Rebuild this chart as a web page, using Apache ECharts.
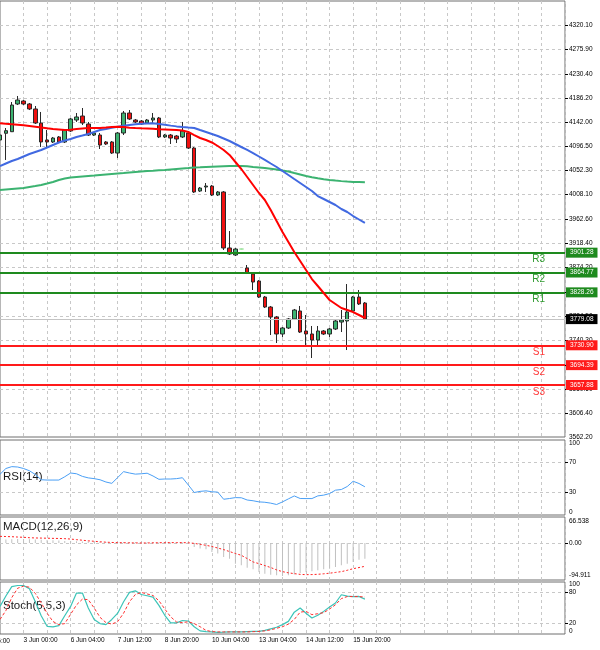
<!DOCTYPE html>
<html><head><meta charset="utf-8">
<script src="https://cdn.jsdelivr.net/npm/echarts@6/dist/echarts.min.js"></script>
<style>html,body{margin:0;padding:0;background:#fff}#c{width:600px;height:650px}</style>
</head><body><div id="c"></div>
<script>
// ---- data (H4 bars) ----
const opens = [4108.6,4120.9,4123.8,4174.8,4180.3,4174.8,4165.6,4139.8,4108.6,4104.9,
4114.1,4104.9,4125.1,4145.3,4152.7,4138.0,4117.7,4117.7,4104.9,4104.9,
4084.6,4121.4,4158.2,4145.3,4143.5,4139.8,4145.3,4149.0,4114.1,4117.7,
4115.9,4114.1,4121.4,4093.8,4014.7,4022.1,4023.9,4007.4,4012.9,3909.9,
3897.0,3908.0,3873.1,3862.0,3849.2,3819.7,3801.3,3782.9,3751.7,3762.7,
3779.3,3794.0,3757.2,3751.7,3740.6,3757.2,3751.7,3760.9,3773.7,3775.6,
3794.0,3819.7,3808.7];
const closes = [4117.7,4125.7,4172.9,4182.1,4174.8,4165.6,4139.8,4104.9,4104.9,4112.2,
4104.9,4126.9,4147.2,4150.9,4139.8,4117.7,4121.4,4099.3,4101.2,4084.6,
4121.4,4158.2,4147.2,4141.7,4138.0,4145.3,4149.0,4114.1,4117.7,4112.2,
4110.4,4125.1,4093.8,4012.9,4020.2,4023.9,4007.4,4012.9,3909.9,3898.8,
3908.0,3908.0,3863.9,3847.3,3819.7,3801.3,3782.9,3751.7,3762.7,3779.3,
3795.8,3755.3,3751.7,3740.6,3757.2,3751.7,3760.9,3775.6,3777.4,3792.1,
3819.7,3806.9,3779.1];
const lows = [4104.9,4071.8,4123.3,4172.9,4172.9,4163.7,4138.0,4095.7,4095.7,4103.0,
4103.0,4103.0,4123.3,4141.7,4136.1,4115.9,4115.9,4092.0,4099.3,4082.8,
4075.4,4117.7,4145.3,4139.8,4136.1,4138.0,4139.8,4112.2,4112.2,4101.2,
4103.0,4112.2,4092.0,4011.0,4012.9,4012.9,4005.5,4005.5,3906.2,3897.0,
3895.2,3907.1,3862.0,3832.6,3817.9,3799.5,3749.8,3735.1,3746.1,3760.9,
3777.4,3753.5,3731.4,3707.5,3731.4,3749.8,3746.1,3759.0,3755.3,3722.2,
3792.1,3805.0,3777.4];
const highs = [4123.3,4130.6,4178.4,4189.5,4182.1,4176.6,4171.1,4160.1,4126.9,4114.1,
4115.9,4128.8,4149.0,4158.2,4167.4,4141.7,4123.3,4121.4,4106.7,4106.7,
4123.3,4161.9,4163.7,4147.2,4145.3,4147.2,4158.2,4150.9,4119.6,4119.6,
4117.7,4141.7,4123.3,4095.7,4022.1,4029.4,4025.8,4014.7,4014.7,3941.1,
3909.9,3908.9,3878.6,3863.9,3851.0,3821.6,3803.2,3784.8,3764.5,3781.1,
3797.7,3803.2,3786.6,3766.4,3766.4,3759.0,3762.7,3777.4,3795.8,3843.6,
3821.6,3832.6,3810.5];
const maRed = [4139.3,4138.4,4137.6,4136.7,4135.6,4134.3,4133.0,4131.5,4130.1,4128.8,
4127.9,4126.9,4127.5,4128.8,4129.7,4130.6,4130.6,4130.6,4131.5,4132.5,
4133.0,4132.5,4131.2,4130.6,4130.1,4129.7,4129.2,4128.2,4127.9,4127.5,
4126.9,4126.0,4123.3,4117.7,4112.2,4108.6,4104.0,4097.5,4090.2,4081.0,
4068.1,4055.2,4040.5,4025.8,4011.1,3998.2,3979.8,3959.5,3939.3,3920.9,
3902.5,3886.0,3869.4,3852.8,3840.0,3827.1,3814.2,3806.9,3799.5,3795.8,
3792.1,3786.6,3781.1];
const maBlue = [4060.7,4065.3,4069.9,4073.6,4078.2,4082.8,4086.5,4090.2,4094.8,4099.4,
4104.0,4107.6,4110.4,4114.1,4116.8,4119.6,4123.3,4126.9,4128.8,4131.0,
4133.0,4134.7,4136.1,4137.4,4138.4,4139.1,4139.3,4138.0,4136.5,4135.0,
4133.6,4132.5,4131.5,4130.6,4126.9,4123.3,4119.6,4115.9,4111.3,4106.7,
4101.2,4095.7,4090.2,4084.6,4078.2,4071.8,4065.3,4058.9,4051.5,4044.2,
4036.8,4029.5,4022.1,4014.7,4005.5,4000.0,3994.5,3989.0,3981.6,3976.1,
3968.7,3962.3,3955.9];
const maGreen = [4016.6,4017.5,4018.4,4019.3,4020.2,4022.1,4023.9,4025.8,4028.5,4031.3,
4035.0,4037.7,4039.6,4040.5,4041.4,4042.3,4043.2,4044.2,4045.1,4046.0,
4046.9,4047.8,4048.8,4049.7,4050.6,4051.5,4052.1,4052.8,4053.4,4054.3,
4055.2,4056.1,4057.0,4058.0,4058.3,4058.9,4059.4,4059.8,4060.2,4060.5,
4060.7,4060.7,4060.2,4058.9,4058.0,4057.0,4055.8,4054.3,4052.4,4050.6,
4047.8,4045.1,4042.3,4039.9,4038.1,4036.4,4035.0,4033.9,4032.9,4032.0,
4031.5,4031.1,4030.7];
const rsi = [54.3,62,64.5,64,62,59,54,47,46.6,46.6,
46.6,51,56,55,51.5,49.5,48.5,47,44,42.2,
50,57.8,56,54.5,55,55.7,52,47.6,48,48,
48.5,49.7,40,30,31.5,32.2,31,30.5,21,22,
23.2,23,20,19,17.5,17,15.8,14,17.5,21.5,
25.4,22,21.9,21.9,25.5,26.5,28.6,33.1,34,38,
45,42,37.6];
const macdHist = [8.5,9,9.5,10,10,9.5,9,8.5,7.5,7,
6.5,5,5,4.5,4,3.5,3,2.5,2,1.5,
2,2.5,2.5,2.5,2,2,2,1.5,1,1,
1,1,-1.5,-10.3,-14.5,-16.2,-23,-27.3,-35.9,-40.2,
-53,-57.2,-63.2,-67.5,-74.3,-78.6,-81.2,-82.8,-84.6,-82.8,
-81,-76.9,-74.3,-72.6,-70,-67.5,-65.8,-61.5,-57.2,-53,
-48.7,-42.7,-40.2];
const macdSignal = [17,16.5,16,15.2,14.5,13.5,12.8,12.5,12.2,11.8,
11.5,11.1,10,8.5,7,5.5,4.3,3,2,1.3,
0.9,0.6,0.3,0.1,0,0,0.3,0.6,0.9,0.9,
0.9,0.9,0.5,-1,-3.5,-6,-9,-13,-17,-22,
-27,-31.6,-40,-48.7,-53,-58,-63,-69,-73.5,-76.5,
-78.6,-80.5,-81.2,-81,-80.3,-79,-77.5,-75.5,-73.5,-70,
-66,-63,-59.8];
const stochMain = [53,73,91,93.3,93.3,87,62,35,14.8,13.6,
16,35,53,78.7,78.7,50,28,20,18,28,
40,62,80,83,76,73.5,71,55,36,21.3,
21.3,26,25,14,6,4.5,4,3.3,3.5,4,
4,4,4.5,5,5.2,7,10,13,18,24.3,
42,50,40,30.8,36,43.5,52,59.6,75.5,73,
72,72.2,67];
const stochSignal = [28,45,70,88,92,90,78,60,40,24,
18,20,38,56,67,66,50,32,22,19,
24,40,62,76,80,77,74,64,48,33,
23,22,23.5,20,14,7,4.6,4,4,4,
4,4,4,4.5,5,6,8,11,14,19,
28,42,43.5,37.2,39,41,48,56.3,68,72,
72,72,71];
const levelNames = ['R3','R2','R1','S1','S2','S3'];
const levelValues = [3901.28,3864.77,3828.26,3730.90,3694.39,3657.88];
const lastPrice = 3779.08;
const priceTicks = [4320.10,4275.90,4230.40,4186.20,4142.00,4096.50,4052.30,4008.10,3962.60,3918.40,
3874.20,3828.70,3784.50,3740.30,3694.80,3650.60,3606.40,3562.20];
const timeTickIndex = [4,12,20,28,36,44,52,60];
const timeTickText = ['3 Jun 00:00','6 Jun 04:00','7 Jun 12:00','8 Jun 20:00','10 Jun 04:00','13 Jun 04:00','14 Jun 12:00','15 Jun 20:00'];
const totalSlots = 97;

// ---- chart ----
const FONT = 'Liberation Sans';
const cats = Array.from({length: totalSlots}, (_, i) => String(i));
const GRID_LINE = {color: '#c8c8c8', type: [3, 3], width: 1};
const grids = [
  {left: -1, top: 1, width: 566, height: 436},
  {left: -1, top: 440, width: 566, height: 75},
  {left: -1, top: 517, width: 566, height: 63},
  {left: -1, top: 582, width: 566, height: 52}
].map(g => Object.assign(g, {show: true, borderColor: '#6e6e6e', borderWidth: 1, containLabel: false}));

function xAx(gi, labels) {
  return {
    type: 'category', gridIndex: gi, data: cats, boundaryGap: false,
    axisLine: {show: false}, axisTick: {show: false},
    axisLabel: labels ? {
      show: true, interval: (i) => timeTickIndex.includes(i),
      formatter: (v, i) => { const k = timeTickIndex.indexOf(i); return k >= 0 ? timeTickText[k] : ''; },
      align: 'left', fontSize: 6.5, color: '#000', margin: 3, fontFamily: FONT
    } : {show: false},
    splitLine: {show: true, interval: (i) => i % 4 === 0 && i > 0, lineStyle: GRID_LINE}
  };
}
const edgeRich = {dn: {padding: [9, 0, 0, 0]}, up: {padding: [0, 0, 9, 0]},
  dn2: {padding: [5, 0, 0, 0]}, up2: {padding: [0, 0, 5, 0]},
  dn3: {padding: [7, 0, 0, 0]}};
function yAx(gi, min, max, ticks, labels, fmt) {
  return {
    type: 'value', gridIndex: gi, position: 'right', min: min, max: max,
    axisLine: {show: false},
    axisTick: {show: true, customValues: ticks, length: 3, lineStyle: {color: '#000'}},
    axisLabel: {show: true, customValues: labels, formatter: fmt, fontSize: 6.5, color: '#000', margin: 4,
      fontFamily: FONT, rich: edgeRich, showMinLabel: true, showMaxLabel: true, hideOverlap: false},
    splitLine: {show: true, lineStyle: GRID_LINE}
  };
}

const candleData = opens.map((o, i) => {
  const item = {value: [o, closes[i], lows[i], highs[i]]};
  if (o === closes[i]) item.itemStyle = {color: '#9be39b', borderColor: '#9be39b', color0: '#9be39b', borderColor0: '#9be39b'};
  return item;
});

const lvlLines = [];
const lvlNameLines = [];
levelNames.forEach((n, k) => {
  const isR = n[0] === 'R';
  const col = isR ? '#1e8a1e' : '#ff1a1a';
  lvlLines.push({yAxis: levelValues[k], lineStyle: {color: col, width: 2, type: 'solid'},
    label: {show: true, position: 'end', distance: 1, formatter: levelValues[k].toFixed(2),
      backgroundColor: col, color: '#fff', fontSize: 6.5, fontFamily: FONT, padding: [1, 4, 1, 4], lineHeight: 8}});
  lvlNameLines.push({yAxis: levelValues[k], name: n,
    label: {show: true, position: 'insideEndBottom', distance: [20, 2], formatter: n,
      color: isR ? '#2f9a2f' : '#ff3a3a', fontSize: 10, fontFamily: FONT}});
});
lvlLines.push({yAxis: lastPrice, lineStyle: {color: '#c4c4c4', width: 1, type: 'solid'},
  label: {show: true, position: 'end', distance: 1, formatter: lastPrice.toFixed(2),
    backgroundColor: '#000', color: '#fff', fontSize: 6.5, fontFamily: FONT, padding: [1, 4, 1, 4], lineHeight: 8}});

const chart = echarts.init(document.getElementById('c'), null, {renderer: 'canvas'});
chart.setOption({
  animation: false,
  backgroundColor: '#fff',
  grid: grids,
  xAxis: [xAx(0, false), xAx(1, false), xAx(2, false), xAx(3, true)],
  yAxis: [
    yAx(0, 3562.2, 4364.25, priceTicks.slice(0, -1), priceTicks, v => v.toFixed(2)),
    yAx(1, 0, 100, [30, 70], [0, 30, 70, 100], v => v === 100 ? '{dn3|100}' : v === 0 ? '{up2|0}' : String(v)),
    yAx(2, -94.911, 66.538, [0], [66.538, 0, -94.911], v => v === 0 ? '0.00' : v > 0 ? '{dn|' + v.toFixed(3) + '}' : '{up|' + v.toFixed(3) + '}'),
    yAx(3, 0, 100, [20, 80], [0, 20, 80, 100], v => v === 100 ? '{dn2|100}' : v === 0 ? '{up2|0}' : String(v))
  ],
  series: [
    {type: 'candlestick', xAxisIndex: 0, yAxisIndex: 0, data: candleData, barWidth: 4, z: 3,
      itemStyle: {color: '#3cb371', color0: '#f01010', borderColor: '#2a2a2a', borderColor0: '#2a2a2a', borderWidth: 1},
      markLine: {silent: true, symbol: ['none', 'none'], animation: false, data: lvlLines}},
    {type: 'line', xAxisIndex: 0, yAxisIndex: 0, data: [], symbol: 'none', z: 2,
      markLine: {silent: true, symbol: ['none', 'none'], animation: false,
        lineStyle: {color: 'rgba(0,0,0,0)', width: 1}, data: lvlNameLines}},
    {type: 'line', xAxisIndex: 0, yAxisIndex: 0, data: maGreen, symbol: 'none', z: 4, lineStyle: {color: '#3cb371', width: 2}},
    {type: 'line', xAxisIndex: 0, yAxisIndex: 0, data: maBlue, symbol: 'none', z: 4, lineStyle: {color: '#4169e1', width: 2}},
    {type: 'line', xAxisIndex: 0, yAxisIndex: 0, data: maRed, symbol: 'none', z: 5, lineStyle: {color: '#ff0000', width: 2}},
    {type: 'line', xAxisIndex: 1, yAxisIndex: 1, data: rsi, symbol: 'none', lineStyle: {color: '#4a9ff5', width: 1}},
    {type: 'bar', xAxisIndex: 2, yAxisIndex: 2, data: macdHist, barWidth: 1, itemStyle: {color: '#c0c0c0'}},
    {type: 'line', xAxisIndex: 2, yAxisIndex: 2, data: macdSignal, symbol: 'none', lineStyle: {color: '#ff2020', width: 1, type: [2, 2]}},
    {type: 'line', xAxisIndex: 3, yAxisIndex: 3, data: stochMain, symbol: 'none', lineStyle: {color: '#3cc4b8', width: 1.2}},
    {type: 'line', xAxisIndex: 3, yAxisIndex: 3, data: stochSignal, symbol: 'none', lineStyle: {color: '#ff3030', width: 1, type: [3, 2]}}
  ],
  graphic: [
    {type: 'text', left: 3, top: 471, silent: true, style: {text: 'RSI(14)', font: '11.5px ' + FONT, fill: '#1a1a1a'}},
    {type: 'text', left: 3, top: 521, silent: true, style: {text: 'MACD(12,26,9)', font: '11.5px ' + FONT, fill: '#1a1a1a'}},
    {type: 'text', left: 3, top: 600, silent: true, style: {text: 'Stoch(5,5,3)', font: '11.5px ' + FONT, fill: '#1a1a1a'}},
    {type: 'text', x: -24, y: 638, silent: true, style: {text: '1 Jun 16:00', font: '6.5px ' + FONT, fill: '#000'}}
  ]
});
</script>
</body></html>
